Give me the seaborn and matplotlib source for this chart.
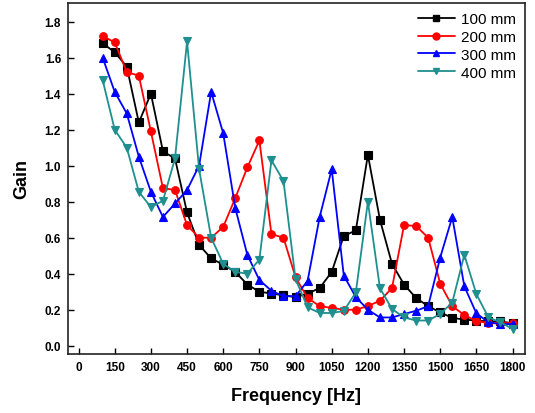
import numpy as np
import pandas as pd
import matplotlib
matplotlib.use("Agg")
import matplotlib.pyplot as plt
import seaborn as sns

freq = list(range(100, 1801, 50))

gain_100 = [1.68, 1.63, 1.55, 1.24, 1.40, 1.08, 1.04, 0.74, 0.56, 0.485, 0.45, 0.41,
            0.34, 0.30, 0.29, 0.28, 0.27, 0.29, 0.32, 0.41, 0.61, 0.64, 1.06, 0.70,
            0.455, 0.34, 0.265, 0.22, 0.185, 0.155, 0.145, 0.14, 0.135, 0.135, 0.125]
gain_200 = [1.72, 1.685, 1.52, 1.50, 1.19, 0.875, 0.865, 0.67, 0.60, 0.60, 0.66, 0.82,
            0.99, 1.14, 0.62, 0.60, 0.38, 0.265, 0.22, 0.21, 0.20, 0.20, 0.22, 0.25,
            0.32, 0.67, 0.665, 0.60, 0.345, 0.22, 0.17, 0.137, 0.126, 0.126, 0.126]
gain_300 = [1.60, 1.41, 1.29, 1.05, 0.855, 0.715, 0.79, 0.865, 1.00, 1.41, 1.18, 0.765,
            0.505, 0.365, 0.305, 0.275, 0.275, 0.36, 0.715, 0.98, 0.39, 0.27, 0.20, 0.157,
            0.157, 0.176, 0.194, 0.22, 0.49, 0.715, 0.33, 0.18, 0.13, 0.12, 0.12]
gain_400 = [1.475, 1.20, 1.10, 0.855, 0.77, 0.805, 1.04, 1.69, 0.98, 0.60, 0.455, 0.41,
            0.40, 0.478, 1.03, 0.915, 0.37, 0.213, 0.182, 0.182, 0.193, 0.296, 0.80, 0.32,
            0.204, 0.157, 0.14, 0.14, 0.176, 0.24, 0.505, 0.287, 0.157, 0.13, 0.093]

labels = ["100 mm", "200 mm", "300 mm", "400 mm"]
colors = ["#000000", "#ff0000", "#0000ff", "#1f8f8f"]
markers = ["s", "o", "^", "v"]

df = pd.DataFrame({
    "Frequency": freq * 4,
    "Gain": gain_100 + gain_200 + gain_300 + gain_400,
    "Series": sum([[l] * len(freq) for l in labels], []),
})

sns.set_theme(style="white")
plt.rcParams["font.family"] = ["Liberation Sans", "DejaVu Sans"]
plt.rcParams["text.color"] = "black"
plt.rcParams["axes.labelcolor"] = "black"

fig = plt.figure(figsize=(5.35, 4.14), dpi=100)
ax = fig.add_axes([0.127, 0.1425, 0.854, 0.848])

sns.lineplot(data=df, x="Frequency", y="Gain", hue="Series", style="Series",
             palette=dict(zip(labels, colors)), markers=dict(zip(labels, markers)),
             dashes=False, linewidth=1.3, markersize=5.5,
             ax=ax, legend=False)
for ln in ax.lines:
    ln.set_markeredgecolor(ln.get_color())
    ln.set_markeredgewidth(0.8)

ax.set_xlim(-44, 1851)
ax.set_ylim(-0.046, 1.904)
ax.set_xticks(np.arange(0, 1801, 150))
ax.set_yticks(np.arange(0, 1.81, 0.2))
ax.set_yticklabels([f"{v:.1f}" for v in np.arange(0, 1.81, 0.2)])
ax.tick_params(direction="in", length=4, width=1, labelsize=8.5, pad=5,
               bottom=True, left=True, top=False, right=False, colors="black")
for lab in ax.get_xticklabels() + ax.get_yticklabels():
    lab.set_fontweight("bold")
for s in ax.spines.values():
    s.set_color("#222222")
    s.set_linewidth(1.2)

ax.set_xlabel("Frequency [Hz]", fontsize=13, fontweight="bold", labelpad=10)
ax.set_ylabel("Gain", fontsize=13, fontweight="bold", labelpad=10)

handles = [plt.Line2D([], [], color=c, marker=m, markersize=5, linewidth=1.3,
                      markeredgecolor=c) for c, m in zip(colors, markers)]
ax.legend(handles, labels, loc="upper right", frameon=False, fontsize=11,
          handlelength=2.4, handletextpad=0.4, labelspacing=0.25, borderaxespad=0.2)

fig.savefig("out.png", dpi=100)
